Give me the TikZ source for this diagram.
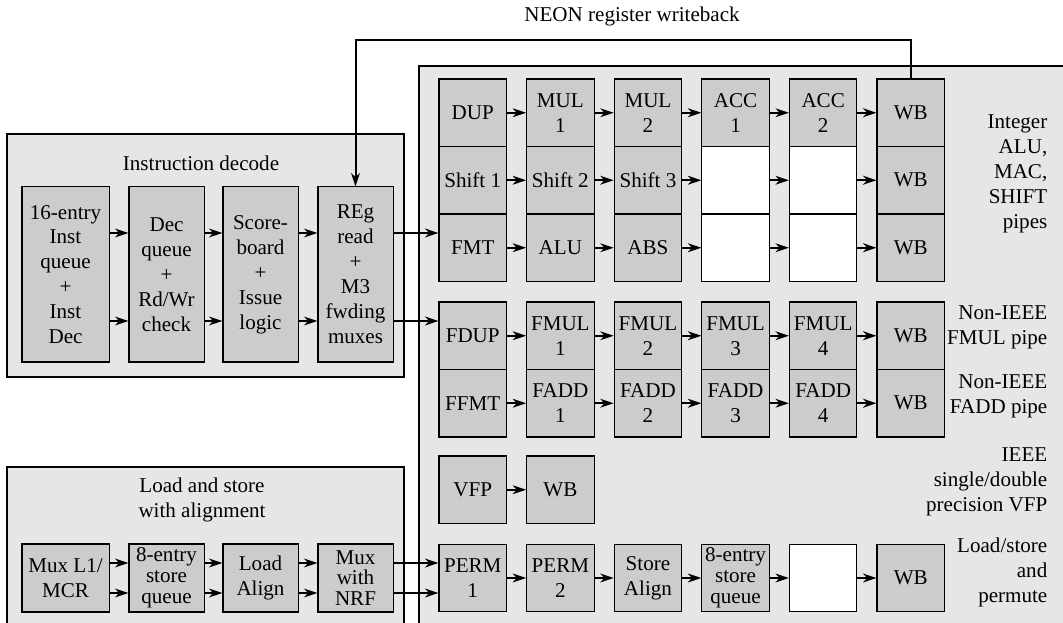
\documentclass[tikz,border=0pt]{standalone}
\usepackage{fontspec}
\setmainfont{Liberation Serif}
\usetikzlibrary{arrows.meta}
\definecolor{PanelGray}{RGB}{230,230,230}
\definecolor{StageGray}{RGB}{204,204,204}

\begin{document}
\begin{tikzpicture}[x=0.75pt,y=-0.75pt,font=\fontsize{15.8}{18.7}\selectfont,
  panel/.style={draw,line width=0.8pt,fill=PanelGray},
  stg/.style n args={3}{draw,line width=0.8pt,fill=#1,minimum width=#2,minimum height=#3,inner sep=0pt,align=center},
  tight/.style={font=\fontsize{15.8}{15.6}\selectfont},
  pipe/.style={line width=1.5pt,-{Stealth[length=10pt,width=6.6pt,inset=3pt]}},
  side/.style={anchor=east,align=right}]
\clip (0,0) rectangle (1063,623);
% panels
\draw[panel] (7,134) rectangle (404,377);
\draw[panel] (7,467) rectangle (404,640);
\draw[panel] (419,66) rectangle (1080,640);
\node (idtitle) at (201,163) {Instruction decode};
\node[align=center] (lstitle) at (202,500) {Load and store\\with alignment};
% instruction decode
\node[stg={StageGray}{65.3pt}{131.3pt}] (id1) at (65.5,274.5) {16-entry\\Inst\\queue\\+\\Inst\\Dec};
\node[stg={StageGray}{56.3pt}{131.3pt}] (id2) at (166.5,274.5) {Dec\\queue\\+\\Rd/Wr\\check};
\node[stg={StageGray}{56.3pt}{131.3pt}] (id3) at (260.5,274.5) {Score-\\board\\+\\Issue\\logic};
\node[stg={StageGray}{56.3pt}{131.3pt}] (id4) at (355.5,274.5) {REg\\read\\+\\M3\\fwding\\muxes};
% load and store
\node[stg={StageGray}{65.3pt}{51pt}] (ls1) at (65.5,578) {Mux L1/\\MCR};
\node[stg={StageGray}{56.3pt}{51pt},tight] (ls2) at (166.5,578) {8-entry\\store\\queue};
\node[stg={StageGray}{56.3pt}{51pt}] (ls3) at (260.5,578) {Load\\Align};
\node[stg={StageGray}{56.3pt}{51pt},tight] (ls4) at (355.5,578) {Mux\\with\\NRF};
% NEON pipes
\foreach \t/\f [count=\i] in {DUP/StageGray,{MUL\\1}/StageGray,{MUL\\2}/StageGray,{ACC\\1}/StageGray,{ACC\\2}/StageGray,WB/StageGray}
  \node[stg={\f}{50.6pt}{50.6pt}] (ia\i) at (385.15+87.6*\i,112.75) {\t};
\foreach \t/\f [count=\i] in {Shift 1/StageGray,Shift 2/StageGray,Shift 3/StageGray,{}/white,{}/white,WB/StageGray}
  \node[stg={\f}{50.6pt}{50.6pt}] (ib\i) at (385.15+87.6*\i,180.25) {\t};
\foreach \t/\f [count=\i] in {FMT/StageGray,ALU/StageGray,ABS/StageGray,{}/white,{}/white,WB/StageGray}
  \node[stg={\f}{50.6pt}{50.6pt}] (ic\i) at (385.15+87.6*\i,247.75) {\t};
\foreach \t [count=\i] in {FDUP,{FMUL\\1},{FMUL\\2},{FMUL\\3},{FMUL\\4},WB}
  \node[stg={StageGray}{50.6pt}{50.6pt}] (fm\i) at (385.15+87.6*\i,335.75) {\t};
\foreach \t [count=\i] in {FFMT,{FADD\\1},{FADD\\2},{FADD\\3},{FADD\\4},WB}
  \node[stg={StageGray}{50.6pt}{50.6pt}] (fa\i) at (385.15+87.6*\i,403.25) {\t};
\foreach \t [count=\i] in {VFP,WB}
  \node[stg={StageGray}{50.6pt}{50.6pt}] (vf\i) at (385.15+87.6*\i,489.75) {\t};
\foreach \t/\f [count=\i] in {{PERM\\1}/StageGray,{PERM\\2}/StageGray,{Store\\Align}/StageGray,{}/StageGray,{}/white,WB/StageGray}
  \node[stg={\f}{50.6pt}{50.6pt}] (pm\i) at (385.15+87.6*\i,578) {\t};
\node[tight,align=center,inner sep=0pt] (pmq) at (pm4) {8-entry\\store\\queue};
% side labels
\node[side] (lint) at (1052,174) {Integer\\ALU,\\MAC,\\SHIFT\\pipes};
\node[side] (lfmul) at (1052,327) {Non-IEEE\\FMUL pipe};
\node[side] (lfadd) at (1052,396) {Non-IEEE\\FADD pipe};
\node[side] (lvfp) at (1052,482) {IEEE\\single/double\\precision VFP};
\node[side] (lperm) at (1052,572) {Load/store\\and\\permute};
% connectors
\coordinate (iu) at (0,233);
\coordinate (il) at (0,321);
\coordinate (lu) at (0,563);
\coordinate (ll) at (0,593);
\coordinate (nt) at (0,40);
\foreach \a/\b in {id1/id2,id2/id3,id3/id4} {
  \draw[pipe] (\a.east|-iu) -- (\b.west|-iu);
  \draw[pipe] (\a.east|-il) -- (\b.west|-il);
}
\foreach \a/\b in {ls1/ls2,ls2/ls3,ls3/ls4,ls4/pm1} {
  \draw[pipe] (\a.east|-lu) -- (\b.west|-lu);
  \draw[pipe] (\a.east|-ll) -- (\b.west|-ll);
}
\draw[pipe] (id4.east|-iu) -- (ic1.west|-iu);
\draw[pipe] (id4.east|-il) -- (fm1.west|-il);
\foreach \r in {ia,ib,ic,fm,fa,pm}
  \foreach \a/\b in {1/2,2/3,3/4,4/5,5/6}
    \draw[pipe] (\r\a.east) -- (\r\b.west);
\draw[pipe] (vf1.east) -- (vf2.west);
\draw[pipe] (ia6.north) -- (ia6.north|-nt) -| (id4.north);
\node (neon) at (632,16) {NEON register writeback};
\end{tikzpicture}
\end{document}
